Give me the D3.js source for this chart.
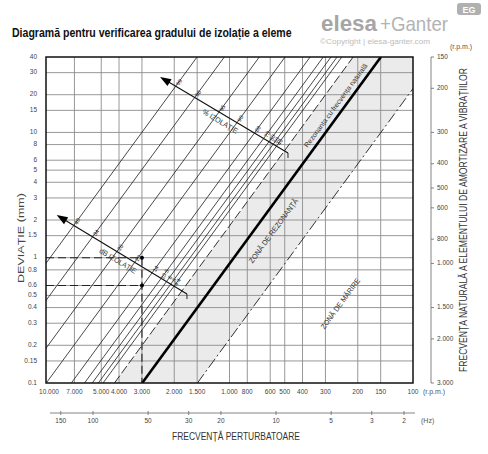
<!DOCTYPE html>
<html><head><meta charset="utf-8">
<script src="https://cdnjs.cloudflare.com/ajax/libs/d3/7.8.5/d3.min.js"></script>
<style>body{margin:0;background:#fff} svg{display:block}</style>
</head><body><script>
const W=488,H=454;
// ---- data ----
const deviationTicks=[40,30,20,15,10,8,6,5,4,3,2,1.5,1,0.8,0.6,0.5,0.4,0.3,0.2,0.15,0.1];
const rpmTicks=[10000,7000,5000,4000,3000,2000,1500,1000,800,600,500,400,300,200,150,100];
const hzTicks=[150,100,50,30,20,10,5,3,2];
const naturalRpmTicks=[150,200,300,400,500,600,800,1000,1500,2000,3000];
const isolationPct=[99,98,95,90,80,70,60,50,40];
const isolationDb=[40,34,26,20,14,10.5,8,6,4.4];
const isolationRpmAt1mm=[9500,6750,4350,3150,2300,1950,1770,1640,1545];
const zeroIsolationRpmAt1mm=1340;
const resonanceRpmAt1mm=946;
const amplificationRpmAt1mm=473;
const exampleRpm=3000, exampleDeviations=[1,0.6];
const pctArrow={tail:[480,6.85],head:[2390,27.7]};
const dbArrow={tail:[1705,0.513],head:[8745,2.19]};

const FONT='"Liberation Sans Narrow","Arial Narrow","Liberation Sans",Arial,sans-serif';
const svg=d3.select("body").append("svg").attr("width",W).attr("height",H)
  .style("font-family",FONT);

const x=d3.scaleLog().domain([10000,100]).range([46,413]);
const y=d3.scaleLog().domain([0.1,40]).range([383,57]);
const yR=d3.scaleLog().domain([150,3000]).range([57,383]);
const xHz=d3.scaleLog().domain([100,2]).range([93,404]);
const [dMin,dMax]=y.domain();
const loc=d3.formatLocale({decimal:",",thousands:".",grouping:[3],currency:["",""]});
const fmt=loc.format(",d");
const P=([f,d])=>[x(f),y(d)];
const linePts=f1=>[[f1/Math.sqrt(dMin),dMin],[f1/Math.sqrt(dMax),dMax]];

const [X0,X1]=x.range(),[Y1,Y0]=y.range();
svg.append("clipPath").attr("id","pc").append("rect")
  .attr("x",X0).attr("y",Y0).attr("width",X1-X0).attr("height",Y1-Y0);
const g=svg.append("g").attr("clip-path","url(#pc)");

// shaded band
const band=[...linePts(zeroIsolationRpmAt1mm),...linePts(amplificationRpmAt1mm).reverse()].map(P);
g.append("path").attr("d",d3.line()(band)).attr("fill","#ebebeb");

// grid
g.selectAll(".vg").data(rpmTicks.slice(1,-1)).join("line")
  .attr("x1",d=>x(d)).attr("x2",d=>x(d)).attr("y1",Y0).attr("y2",Y1)
  .attr("stroke","#8c8c8c").attr("stroke-width",0.9);
g.selectAll(".hg").data(deviationTicks.slice(1,-1)).join("line")
  .attr("y1",d=>y(d)).attr("y2",d=>y(d)).attr("x1",X0).attr("x2",X1)
  .attr("stroke","#8c8c8c").attr("stroke-width",0.9);

const line=d3.line();
g.selectAll(".iso").data(isolationRpmAt1mm).join("path")
  .attr("d",f=>line(linePts(f).map(P))).attr("stroke","#1a1a1a").attr("stroke-width",0.8).attr("fill","none");
g.append("path").attr("d",line(linePts(zeroIsolationRpmAt1mm).map(P)))
  .attr("stroke","#1a1a1a").attr("stroke-width",0.9).attr("stroke-dasharray","9,3").attr("fill","none");
g.append("path").attr("d",line(linePts(amplificationRpmAt1mm).map(P)))
  .attr("stroke","#1a1a1a").attr("stroke-width",0.9).attr("stroke-dasharray","11,3,2,3").attr("fill","none");
g.append("path").attr("d",line(linePts(resonanceRpmAt1mm).map(P)))
  .attr("stroke","#000").attr("stroke-width",2.6).attr("fill","none");

// example dashed
exampleDeviations.forEach(d=>{
  g.append("line").attr("x1",X0).attr("x2",x(exampleRpm)).attr("y1",y(d)).attr("y2",y(d))
    .attr("stroke","#222").attr("stroke-width",1.1).attr("stroke-dasharray","8,4");
});
g.append("line").attr("x1",x(exampleRpm)).attr("x2",x(exampleRpm)).attr("y1",y(d3.max(exampleDeviations))).attr("y2",Y1)
  .attr("stroke","#222").attr("stroke-width",1.1).attr("stroke-dasharray","8,4");
svg.selectAll(".dot").data(exampleDeviations).join("circle")
  .attr("cx",x(exampleRpm)).attr("cy",d=>y(d)).attr("r",2).attr("fill","#000");

// arrows with labels
function intersect(a,b,c,d){
  const r=[b[0]-a[0],b[1]-a[1]],s=[d[0]-c[0],d[1]-c[1]];
  const den=r[0]*s[1]-r[1]*s[0];
  const t=((c[0]-a[0])*s[1]-(c[1]-a[1])*s[0])/den;
  return [a[0]+t*r[0],a[1]+t*r[1],t];
}
function arrow(ar,labels,title){
  const T=P(ar.tail),Hd=P(ar.head);
  const len=Math.hypot(Hd[0]-T[0],Hd[1]-T[1]);
  const u=[(Hd[0]-T[0])/len,(Hd[1]-T[1])/len];
  const n=[-u[1],u[0]];
  const up=n[1]<0?n:[-n[0],-n[1]];
  svg.append("line").attr("x1",T[0]).attr("y1",T[1]).attr("x2",Hd[0]-u[0]*8).attr("y2",Hd[1]-u[1]*8)
    .attr("stroke","#111").attr("stroke-width",1.1);
  const tip=[Hd[0],Hd[1]],b=[Hd[0]-u[0]*11,Hd[1]-u[1]*11];
  svg.append("path").attr("d",d3.line()([tip,[b[0]+up[0]*4,b[1]+up[1]*4],[b[0]-up[0]*4,b[1]-up[1]*4]])+"Z").attr("fill","#000");
  svg.append("line").attr("x1",T[0]).attr("y1",T[1]).attr("x2",T[0]).attr("y2",T[1]+5).attr("stroke","#111").attr("stroke-width",0.9);
  const lg=svg.append("g");
  isolationRpmAt1mm.forEach((f,i)=>{
    const [p1,p2]=linePts(f).map(P);
    const q=intersect(T,Hd,p1,p2);
    if(!(q[2]>=0&&q[2]<=1)) return;
    lg.append("text").attr("transform",`translate(${(q[0]+up[0]*4.5+1.5).toFixed(1)},${(q[1]+up[1]*4.5).toFixed(1)}) rotate(-58)`)
      .attr("font-size",5.5).attr("fill","#222").attr("text-anchor","middle").attr("dominant-baseline","middle")
      .style("font-family","'Liberation Sans',Arial,sans-serif")
      .text(String(labels[i]));
  });
  const ang=Math.atan2(u[1],u[0])*180/Math.PI+180;
  const m=[ (T[0]+Hd[0])/2-up[0]*8, (T[1]+Hd[1])/2-up[1]*8 ];
  svg.append("text").attr("transform",`translate(${m[0]},${m[1]}) rotate(${ang})`)
    .attr("font-size",7.5).attr("fill","#333").attr("text-anchor","middle").attr("dominant-baseline","middle")
    .attr("textLength",title.len).attr("lengthAdjust","spacingAndGlyphs").text(title.t);
}
arrow(pctArrow,isolationPct,{t:"% IZOLAȚIE",len:40});
arrow(dbArrow,isolationDb,{t:"dB IZOLAȚIE",len:42});

// zone texts
const slope=Math.atan2(y(dMax)-y(dMin),x(resonanceRpmAt1mm/Math.sqrt(dMax))-x(resonanceRpmAt1mm/Math.sqrt(dMin)))*180/Math.PI;
[[ [262,16.3],"Rezonanța cu frecvența naturală",102,7],
 [ [572,1.63],"ZONĂ DE REZONANȚĂ",78,7.5],
 [ [247,0.427],"ZONĂ DE MĂRIRE",61,7.5]].forEach(([pt,t,L,fs])=>{
  const [px,py]=P(pt);
  svg.append("text").attr("transform",`translate(${px},${py}) rotate(${slope})`)
    .attr("font-size",fs).attr("fill","#333").attr("text-anchor","middle").attr("dominant-baseline","middle")
    .attr("textLength",L).attr("lengthAdjust","spacingAndGlyphs").text(t);
});

// border
svg.append("rect").attr("x",X0).attr("y",Y0).attr("width",X1-X0).attr("height",Y1-Y0)
  .attr("fill","none").attr("stroke","#111").attr("stroke-width",1.5);

// left tick labels
svg.selectAll(".yl").data(deviationTicks).join("text")
  .attr("x",37).attr("y",d=>y(d)).attr("text-anchor","end").attr("dominant-baseline","middle")
  .attr("font-size",6.5).attr("fill","#444").text(d=>String(d));
svg.append("text").attr("transform",`translate(21,238) rotate(-90)`).attr("text-anchor","middle")
  .attr("dominant-baseline","middle").attr("font-size",9.5).attr("fill","#444")
  .attr("textLength",90).attr("lengthAdjust","spacingAndGlyphs").text("DEVIAȚIE (mm)");

// bottom rpm labels
svg.selectAll(".xl").data(rpmTicks).join("text")
  .attr("x",d=>x(d)+(d===10000?3:0)).attr("y",394).attr("text-anchor","middle")
  .attr("font-size",6.5).attr("fill","#444").text(d=>fmt(d));
svg.append("text").attr("x",423).attr("y",394).attr("font-size",7).attr("fill","#555").text("(r.p.m.)");

// Hz axis
svg.append("line").attr("x1",50).attr("x2",415).attr("y1",413).attr("y2",413).attr("stroke","#666").attr("stroke-width",0.8);
svg.selectAll(".ht").data(hzTicks).join("line").attr("x1",d=>xHz(d)).attr("x2",d=>xHz(d)).attr("y1",411).attr("y2",415)
  .attr("stroke","#666").attr("stroke-width",0.8);
svg.selectAll(".hl").data(hzTicks).join("text").attr("x",d=>xHz(d)).attr("y",423).attr("text-anchor","middle")
  .attr("font-size",6.5).attr("fill","#444").text(d=>d);
svg.append("text").attr("x",421).attr("y",423).attr("font-size",7).attr("fill","#555").text("(Hz)");
svg.append("text").attr("x",236).attr("y",440).attr("text-anchor","middle").attr("font-size",10).attr("fill","#333")
  .attr("textLength",128).attr("lengthAdjust","spacingAndGlyphs").text("FRECVENȚĂ PERTURBATOARE");

// right axis
const RX=431;
svg.append("line").attr("x1",RX).attr("x2",RX).attr("y1",yR(150)).attr("y2",yR(3000)).attr("stroke","#666").attr("stroke-width",0.8);
svg.selectAll(".rt").data(naturalRpmTicks).join("line").attr("x1",RX).attr("x2",RX+3).attr("y1",d=>yR(d)).attr("y2",d=>yR(d))
  .attr("stroke","#666").attr("stroke-width",0.8);
svg.selectAll(".rl").data(naturalRpmTicks).join("text").attr("x",RX+6).attr("y",d=>yR(d)).attr("dominant-baseline","middle")
  .attr("font-size",6.5).attr("fill","#444").text(d=>fmt(d));
svg.append("text").attr("x",450).attr("y",49).attr("font-size",7).attr("fill","#555").text("(r.p.m.)");
svg.append("text").attr("transform",`translate(464,220) rotate(-90)`).attr("text-anchor","middle")
  .attr("dominant-baseline","middle").attr("font-size",10).attr("fill","#333")
  .attr("textLength",304).attr("lengthAdjust","spacingAndGlyphs")
  .text("FRECVENȚA NATURALĂ A ELEMENTULUI DE AMORTIZARE A VIBRAȚIILOR");

// title (scaled horizontally so its box matches the condensed reference title)
const title=svg.append("text").attr("font-size",13).attr("font-weight","bold").attr("fill","#111")
  .text("Diagramă pentru verificarea gradului de izolație a eleme");
const tw=title.node().getComputedTextLength()||400;
title.attr("transform",`translate(12,37) scale(${(280/tw).toFixed(4)},1)`);

// logo
svg.append("text").attr("x",321).attr("y",31).attr("font-size",22).attr("font-weight","bold").attr("fill","#a6a6a6")
  .attr("font-family","'Liberation Sans',Arial,sans-serif").attr("textLength",56).attr("lengthAdjust","spacingAndGlyphs").text("elesa");
svg.append("text").attr("x",380).attr("y",31).attr("font-size",21).attr("fill","#b3b3b3")
  .attr("font-family","'Liberation Sans',Arial,sans-serif").attr("textLength",68).attr("lengthAdjust","spacingAndGlyphs").text("+Ganter");
svg.append("text").attr("x",320).attr("y",44).attr("font-size",6.5).attr("fill","#bdbdbd")
  .attr("font-family","'Liberation Sans',Arial,sans-serif").attr("textLength",110).attr("lengthAdjust","spacingAndGlyphs").text("©Copyright | elesa-ganter.com");
svg.append("rect").attr("x",457).attr("y",3).attr("width",24).attr("height",12).attr("rx",3).attr("fill","#b0b0b0");
svg.append("text").attr("x",469).attr("y",12.5).attr("text-anchor","middle").attr("font-size",9).attr("font-weight","bold")
  .attr("fill","#fff").attr("font-family","'Liberation Sans',Arial,sans-serif").text("EG");
</script></body></html>
